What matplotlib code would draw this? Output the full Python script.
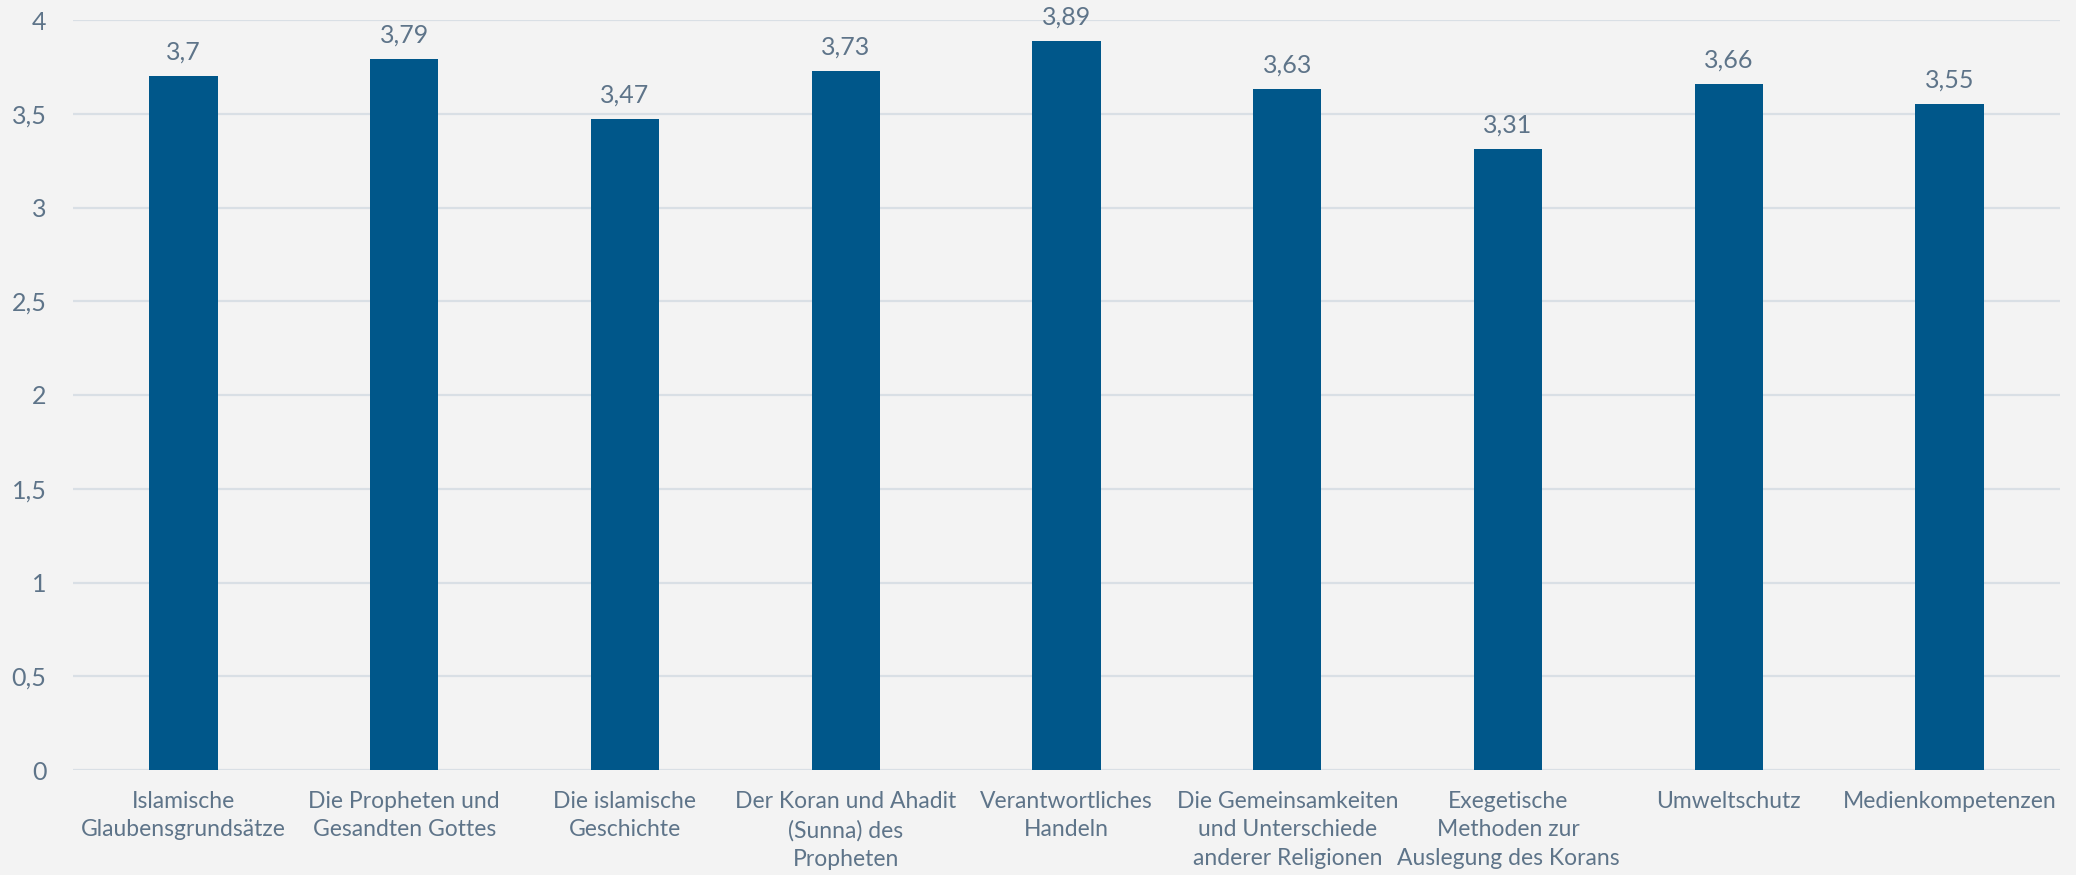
import matplotlib
matplotlib.use("Agg")
import matplotlib.pyplot as plt

categories = [
    "Islamische\nGlaubensgrundsätze",
    "Die Propheten und\nGesandten Gottes",
    "Die islamische\nGeschichte",
    "Der Koran und Ahadit\n(Sunna) des\nPropheten",
    "Verantwortliches\nHandeln",
    "Die Gemeinsamkeiten\nund Unterschiede\nanderer Religionen",
    "Exegetische\nMethoden zur\nAuslegung des Korans",
    "Umweltschutz",
    "Medienkompetenzen",
]
values = [3.7, 3.79, 3.47, 3.73, 3.89, 3.63, 3.31, 3.66, 3.55]
yticks = [0, 0.5, 1, 1.5, 2, 2.5, 3, 3.5, 4]

BG = "#F3F3F3"
BAR = "#00578A"
TXT = "#5E7489"
GRID = "#D9DFE5"

plt.rcParams['font.family'] = ['Lato', 'DejaVu Sans']

fig = plt.figure(figsize=(20.76, 8.75), dpi=100, facecolor=BG)
ax = fig.add_axes([73/2076, 105/875, (2060-73)/2076, 750/875], facecolor=BG)

x = list(range(len(categories)))
ax.bar(x, values, width=0.31, color=BAR, zorder=3)
ax.set_xlim(-0.5, len(categories) - 0.5)
ax.set_ylim(0, 4)
ax.set_yticks(yticks)
ax.set_yticklabels([f"{t:g}".replace(".", ",") for t in yticks])
ax.set_xticks(x)
ax.set_xticklabels(categories, linespacing=1.45)
ax.tick_params(axis='y', length=0, pad=19, labelsize=18, labelcolor=TXT)
ax.tick_params(axis='x', length=0, pad=15, labelsize=16.5, labelcolor=TXT)
ax.grid(axis='y', color=GRID, linewidth=1.6, zorder=0)
for s in ax.spines.values():
    s.set_visible(False)
ax.set_axisbelow(True)

for xi, v in zip(x, values):
    ax.annotate(f"{v:g}".replace(".", ","), (xi, v), xytext=(0, 9),
                textcoords="offset points", ha="center", va="bottom",
                fontsize=18, color=TXT)

fig.savefig("out.png", dpi=100, facecolor=BG)
